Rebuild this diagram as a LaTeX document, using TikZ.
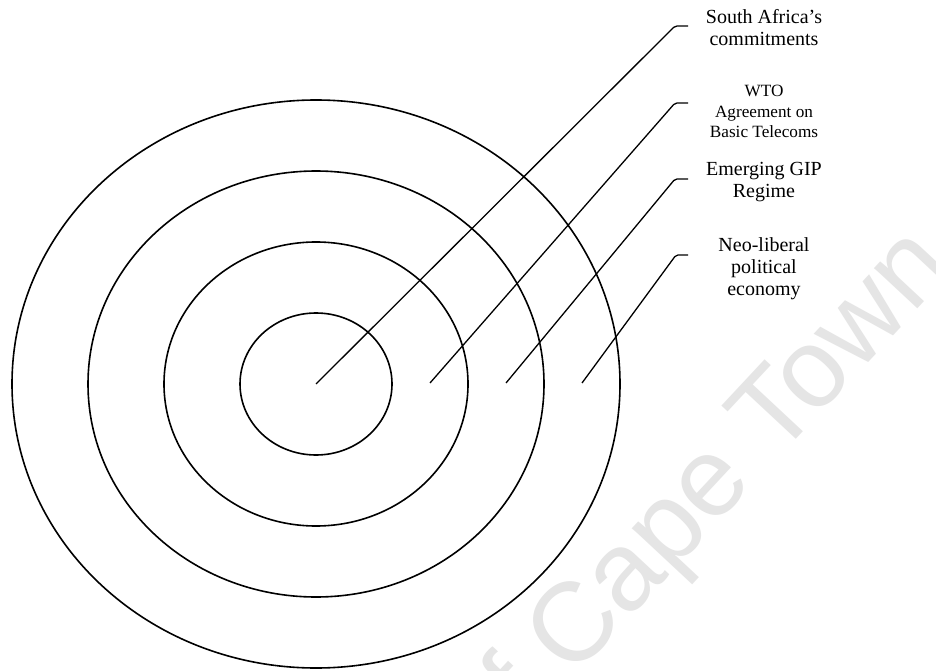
\documentclass[tikz,border=0pt]{standalone}
\usepackage{fontspec}
\setmainfont{Liberation Serif}
\newfontfamily\wmfont{Liberation Sans}
\begin{document}
\begin{tikzpicture}[x=1pt,y=-1pt,
  ring/.style={draw=black, line width=1.6pt},
  leader/.style={draw=black, line width=1.3pt, rounded corners=2pt},
  biglabel/.style={font=\fontsize{20}{22}\selectfont, align=center, anchor=base, inner sep=0pt},
  smalllabel/.style={font=\fontsize{17.2}{20.3}\selectfont, align=center, anchor=base, inner sep=0pt},
  watermark/.style={font=\wmfont\fontsize{112}{112}\selectfont, text=black!10, rotate=47, inner sep=0pt}]
\useasboundingbox (0,0) rectangle (936,671);
\fill[white] (0,0) rectangle (936,671);
\begin{scope}
  \clip (0,0) rectangle (936,671);
  \node[watermark] (wm) at (700,500) {of Cape Town};
\end{scope}
% rings
\coordinate (ctr) at (316,384);
\draw[ring] (ctr) ellipse [x radius=76, y radius=71];
\draw[ring] (ctr) ellipse [x radius=152, y radius=142];
\draw[ring] (ctr) ellipse [x radius=228, y radius=213];
\draw[ring] (ctr) ellipse [x radius=304, y radius=284];
% leader line points
\coordinate (s1) at (316,384);
\coordinate (s2) at (430,383);
\coordinate (s3) at (506,383);
\coordinate (s4) at (582,383);
\coordinate (k1) at (675,26);
\coordinate (k2) at (675,103);
\coordinate (k3) at (675,179);
\coordinate (k4) at (676,255);
\coordinate (e1) at (688,26);
\coordinate (e2) at (688,103);
\coordinate (e3) at (688,179);
\coordinate (e4) at (688,255);
\draw[leader] (s1) -- (k1) -- (e1);
\draw[leader] (s2) -- (k2) -- (e2);
\draw[leader] (s3) -- (k3) -- (e3);
\draw[leader] (s4) -- (k4) -- (e4);
% labels (anchor=base is the last line's baseline)
\node[biglabel] (l1) at (764,46) {South Africa's\\commitments};
\node[smalllabel] (l2) at (764,137.5) {WTO\\Agreement on\\Basic Telecoms};
\node[biglabel] (l3) at (764,197) {Emerging GIP\\Regime};
\node[biglabel] (l4) at (764,295) {Neo-liberal\\political\\economy};
\end{tikzpicture}
\end{document}
